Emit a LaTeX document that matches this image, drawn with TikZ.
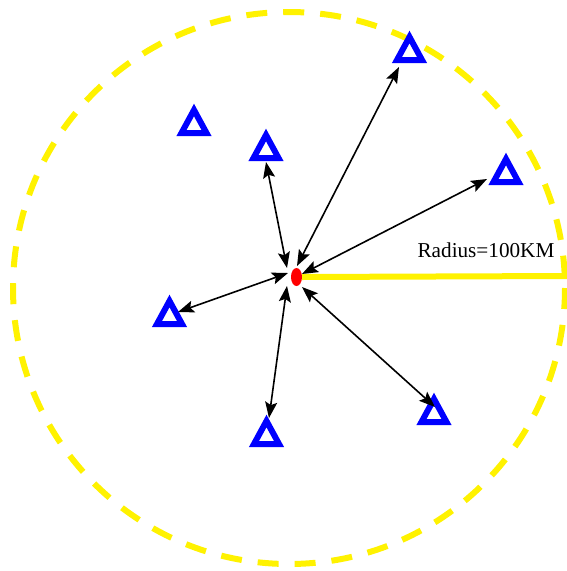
\documentclass[tikz,border=0pt]{standalone}
\usepackage{fontspec}
\setmainfont{Liberation Serif}
\usetikzlibrary{arrows.meta,shapes.geometric}
\begin{document}
\begin{tikzpicture}[x=1pt,y=-1pt,
  zone/.style={draw=yellow, line width=6pt, dash pattern=on 21pt off 16pt},
  radiusline/.style={draw=yellow, line width=6pt},
  station/.style={draw=blue, line width=6pt, line join=miter, fill=white},
  link/.style={draw=black, line width=1.6pt, {Stealth[length=16pt,width=12pt,inset=3pt]}-{Stealth[length=16pt,width=12pt,inset=3pt]}},
  lbl/.style={font=\fontsize{21.2pt}{24pt}\selectfont, anchor=base, inner sep=0pt}
]
\useasboundingbox (0,0) rectangle (567,571);
% coverage circle
\coordinate (c) at (289,288);
\draw[zone] (c) circle[radius=276];
% radius line
\coordinate (redge) at (567,276);
\node[draw=none, fill=red, ellipse, minimum width=11pt, minimum height=18pt, inner sep=0pt] (dot) at (296.5,277) {};
\draw[radiusline] (dot.east) -- (redge);
\node[lbl] (rlabel) at (486,257) {Radius=100KM};
% stations (base centre)
\foreach \n/\bx/\by in {t1/409.5/60, t2/194/133, t3/266/158, t4/506/182, t5/169.5/324, t6/434/422, t7/266.5/444}{
  \draw[station] (\bx-12.5,\by) -- (\bx,\by-23) -- (\bx+12.5,\by) -- cycle;
  \coordinate (\n) at (\bx,\by-10);
}
% arrow endpoints
\coordinate (a1s) at (297,266); \coordinate (a1e) at (399,67);
\coordinate (a3s) at (287,268); \coordinate (a3e) at (266,162);
\coordinate (a4s) at (302,274); \coordinate (a4e) at (487,179);
\coordinate (a5s) at (288,273); \coordinate (a5e) at (178,312);
\coordinate (a7s) at (287,286); \coordinate (a7e) at (269,418);
\coordinate (a6s) at (302,287); \coordinate (a6e) at (435,407);
\draw[link] (a1s) -- (a1e);
\draw[link] (a3s) -- (a3e);
\draw[link] (a4s) -- (a4e);
\draw[link] (a5s) -- (a5e);
\draw[link] (a7s) -- (a7e);
\draw[link] (a6s) -- (a6e);
\end{tikzpicture}
\end{document}
